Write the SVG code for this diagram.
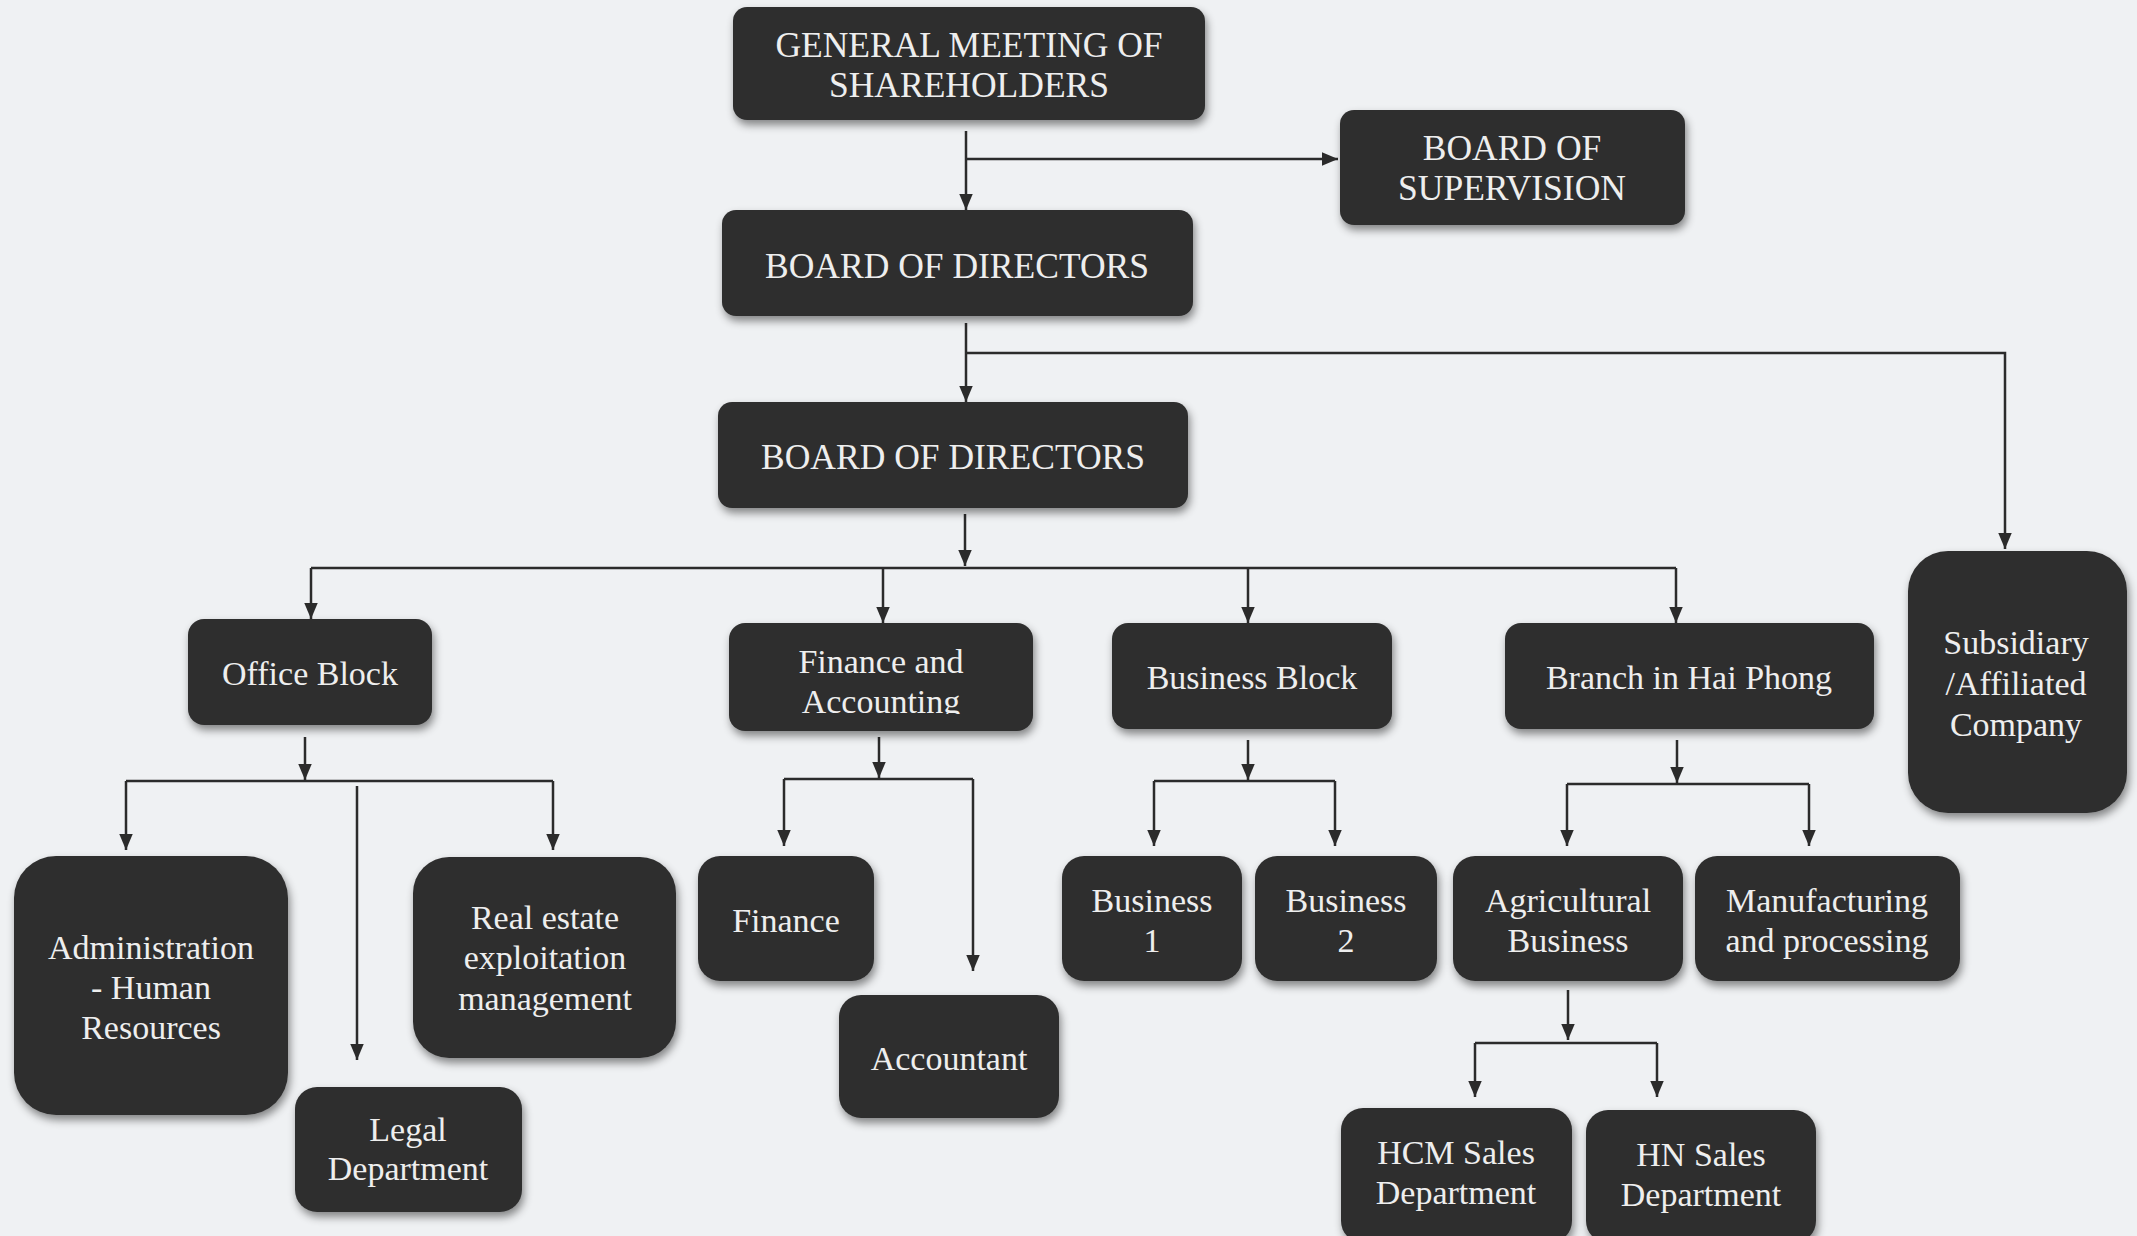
<svg xmlns="http://www.w3.org/2000/svg" width="2137" height="1236" viewBox="0 0 2137 1236">
<defs>
<marker id="arr" viewBox="0 0 10 10" refX="10" refY="5" markerUnits="userSpaceOnUse" markerWidth="16" markerHeight="16" orient="auto">
<path d="M0,0.8 L10,5 L0,9.2 z" fill="#2b2b2b"/>
</marker>
<filter id="sh" x="-10%" y="-10%" width="125%" height="130%">
<feDropShadow dx="2" dy="5" stdDeviation="4" flood-color="#000" flood-opacity="0.45"/>
</filter>
<clipPath id="facClip"><rect x="729" y="623" width="304" height="91"/></clipPath>
<style>
.box{fill:#2f2f2f;filter:url(#sh)}
.t{font-family:"Liberation Serif","Times New Roman",serif;font-size:34px;fill:#eeeeee;text-anchor:middle}
.u{font-size:35.5px}
.c{stroke:#2b2b2b;stroke-width:2.5;fill:none}
</style>
</defs>
<rect x="0" y="0" width="2137" height="1236" fill="#eff1f3"/>

<g id="connectors">
<path class="c" d="M966,131 V210" marker-end="url(#arr)"/>
<path class="c" d="M966,159 H1338" marker-end="url(#arr)"/>
<path class="c" d="M966,323 V402" marker-end="url(#arr)"/>
<path class="c" d="M966,353 H2005 V549" marker-end="url(#arr)"/>
<path class="c" d="M965,514 V566" marker-end="url(#arr)"/>
<path class="c" d="M311,568 H1676"/>
<path class="c" d="M311,568 V619" marker-end="url(#arr)"/>
<path class="c" d="M883,568 V623" marker-end="url(#arr)"/>
<path class="c" d="M1248,568 V623" marker-end="url(#arr)"/>
<path class="c" d="M1676,568 V623" marker-end="url(#arr)"/>
<path class="c" d="M305,737 V780" marker-end="url(#arr)"/>
<path class="c" d="M126,781 H553"/>
<path class="c" d="M553,781 V850" marker-end="url(#arr)"/>
<path class="c" d="M126,781 V850" marker-end="url(#arr)"/>
<path class="c" d="M357,786 V1060" marker-end="url(#arr)"/>
<path class="c" d="M879,737 V778" marker-end="url(#arr)"/>
<path class="c" d="M784,779 H973"/>
<path class="c" d="M784,779 V846" marker-end="url(#arr)"/>
<path class="c" d="M973,779 V971" marker-end="url(#arr)"/>
<path class="c" d="M1248,740 V780" marker-end="url(#arr)"/>
<path class="c" d="M1154,781 H1335"/>
<path class="c" d="M1154,781 V846" marker-end="url(#arr)"/>
<path class="c" d="M1335,781 V846" marker-end="url(#arr)"/>
<path class="c" d="M1677,740 V783" marker-end="url(#arr)"/>
<path class="c" d="M1567,784 H1809"/>
<path class="c" d="M1567,784 V846" marker-end="url(#arr)"/>
<path class="c" d="M1809,784 V846" marker-end="url(#arr)"/>
<path class="c" d="M1568,990 V1040" marker-end="url(#arr)"/>
<path class="c" d="M1475,1043 H1657"/>
<path class="c" d="M1475,1043 V1097" marker-end="url(#arr)"/>
<path class="c" d="M1657,1043 V1097" marker-end="url(#arr)"/>
</g>

<g id="gms"><rect class="box" x="733" y="7" width="472" height="113" rx="14"/>
<text class="t u" x="969" y="57">GENERAL MEETING OF</text><text class="t u" x="969" y="97">SHAREHOLDERS</text></g>
<g id="bos"><rect class="box" x="1340" y="110" width="345" height="115" rx="14"/>
<text class="t u" x="1512" y="160">BOARD OF</text><text class="t u" x="1512" y="200">SUPERVISION</text></g>
<g id="bod1"><rect class="box" x="722" y="210" width="471" height="106" rx="14"/>
<text class="t u" x="957" y="278">BOARD OF DIRECTORS</text></g>
<g id="bod2"><rect class="box" x="718" y="402" width="470" height="106" rx="14"/>
<text class="t u" x="953" y="469">BOARD OF DIRECTORS</text></g>

<g id="office"><rect class="box" x="188" y="619" width="244" height="106" rx="16"/>
<text class="t" x="310" y="685">Office Block</text></g>
<g id="finacc"><rect class="box" x="729" y="623" width="304" height="108" rx="16"/>
<text class="t" x="881" y="673">Finance and</text><text class="t" x="881" y="713" clip-path="url(#facClip)">Accounting</text></g>
<g id="busblock"><rect class="box" x="1112" y="623" width="280" height="106" rx="16"/>
<text class="t" x="1252" y="689">Business Block</text></g>
<g id="branch"><rect class="box" x="1505" y="623" width="369" height="106" rx="16"/>
<text class="t" x="1689" y="689">Branch in Hai Phong</text></g>
<g id="subsidiary"><rect class="box" x="1908" y="551" width="219" height="262" rx="40"/>
<text class="t" x="2016" y="654">Subsidiary</text><text class="t" x="2016" y="695">/Affiliated</text><text class="t" x="2016" y="736">Company</text></g>

<g id="admin"><rect class="box" x="14" y="856" width="274" height="259" rx="42"/>
<text class="t" x="151" y="959">Administration</text><text class="t" x="151" y="999">- Human</text><text class="t" x="151" y="1039">Resources</text></g>
<g id="realestate"><rect class="box" x="413" y="857" width="263" height="201" rx="36"/>
<text class="t" x="545" y="929">Real estate</text><text class="t" x="545" y="969">exploitation</text><text class="t" x="545" y="1010">management</text></g>
<g id="legal"><rect class="box" x="295" y="1087" width="227" height="125" rx="22"/>
<text class="t" x="408" y="1141">Legal</text><text class="t" x="408" y="1180">Department</text></g>
<g id="finance"><rect class="box" x="698" y="856" width="176" height="125" rx="22"/>
<text class="t" x="786" y="932">Finance</text></g>
<g id="accountant"><rect class="box" x="839" y="995" width="220" height="123" rx="22"/>
<text class="t" x="949" y="1070">Accountant</text></g>
<g id="business1"><rect class="box" x="1062" y="856" width="180" height="125" rx="22"/>
<text class="t" x="1152" y="912">Business</text><text class="t" x="1152" y="952">1</text></g>
<g id="business2"><rect class="box" x="1255" y="856" width="182" height="125" rx="22"/>
<text class="t" x="1346" y="912">Business</text><text class="t" x="1346" y="952">2</text></g>
<g id="agri"><rect class="box" x="1453" y="856" width="230" height="125" rx="22"/>
<text class="t" x="1568" y="912">Agricultural</text><text class="t" x="1568" y="952">Business</text></g>
<g id="manuf"><rect class="box" x="1695" y="856" width="265" height="125" rx="22"/>
<text class="t" x="1827" y="912">Manufacturing</text><text class="t" x="1827" y="952">and processing</text></g>
<g id="hcm"><rect class="box" x="1341" y="1108" width="231" height="135" rx="22"/>
<text class="t" x="1456" y="1164">HCM Sales</text><text class="t" x="1456" y="1204">Department</text></g>
<g id="hn"><rect class="box" x="1586" y="1110" width="230" height="133" rx="22"/>
<text class="t" x="1701" y="1166">HN Sales</text><text class="t" x="1701" y="1206">Department</text></g>
</svg>
